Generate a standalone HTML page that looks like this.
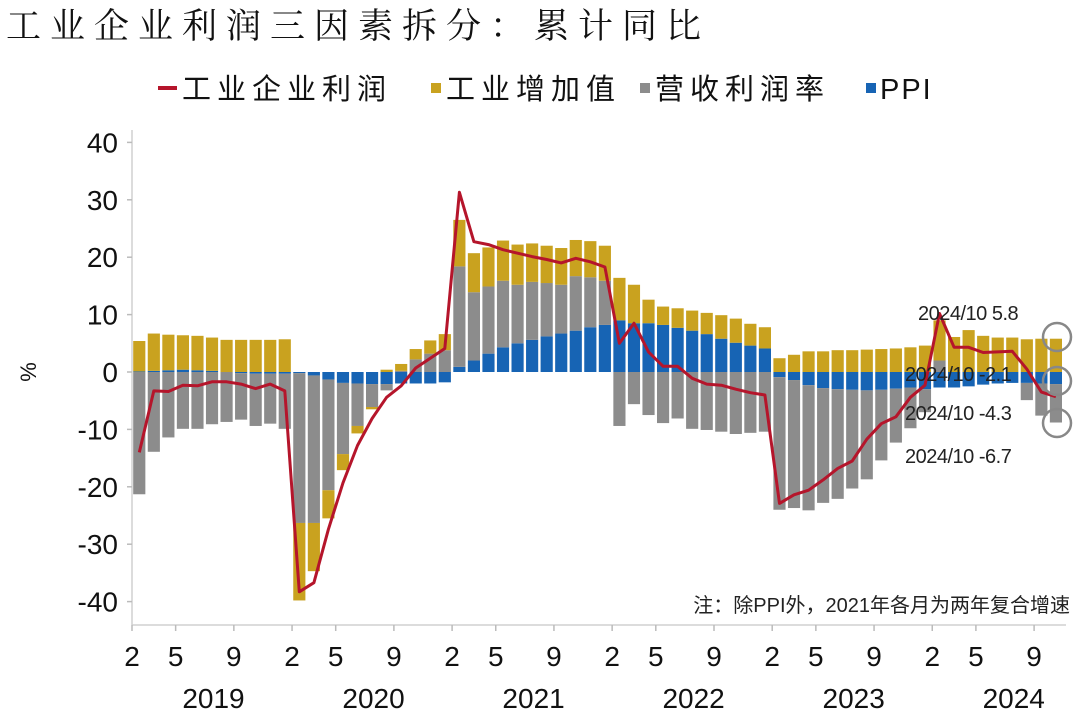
<!DOCTYPE html>
<html><head><meta charset="utf-8">
<style>
body{margin:0;background:#fff;}
svg text{font-family:"Liberation Sans","Noto Sans CJK SC",sans-serif;}
</style></head>
<body>
<svg id="chart" width="1080" height="721" xmlns="http://www.w3.org/2000/svg">
<text x="6" y="38" font-size="35" fill="#111" style="font-family:'Noto Serif CJK SC','Noto Sans CJK SC',serif;letter-spacing:9px">工业企业利润三因素拆分：累计同比</text>
<g font-size="29" fill="#111" style="letter-spacing:6px">
  <g><rect x="158" y="86" width="19" height="4" fill="#B5152B"/><text x="182" y="99">工业企业利润</text></g>
  <g><rect x="431" y="83" width="10" height="10" fill="#C9A21F"/><text x="446" y="99">工业增加值</text></g>
  <g><rect x="640" y="83" width="10" height="10" fill="#8C8C8C"/><text x="655" y="99">营收利润率</text></g>
  <g><rect x="866" y="83" width="10" height="10" fill="#1764B4"/><text x="880" y="99" style="letter-spacing:2px">PPI</text></g>
</g>
<text x="0" y="0" font-size="22" fill="#111" transform="translate(36,372) rotate(-90)" text-anchor="middle">%</text>
<g id="yaxis"></g>
<g id="bars"></g>
<g id="line"></g>
<g id="xaxis"></g>
<g font-size="20" fill="#222" style="font-family:'DejaVu Sans Mono','Liberation Mono',monospace;letter-spacing:-0.5px">
  <text x="918" y="320">2024/10 5.8</text>
  <text x="905" y="381">2024/10 -2.1</text>
  <text x="905" y="420">2024/10 -4.3</text>
  <text x="905" y="463">2024/10 -6.7</text>
  <circle cx="1057" cy="337" r="14" fill="none" stroke="#888" stroke-width="2.5"/>
  <circle cx="1057" cy="381" r="14" fill="none" stroke="#888" stroke-width="2.5"/>
  <circle cx="1057" cy="423" r="14" fill="none" stroke="#888" stroke-width="2.5"/>
</g>
<text x="1070" y="612" font-size="20" fill="#222" text-anchor="end">注：除PPI外，2021年各月为两年复合增速</text>
</svg>
<script>
const years = ["2019","2020","2021","2022","2023","2024"];
const monthLabels = ["2","5","9"];
const yTicks = [40,30,20,10,0,-10,-20,-30,-40];
const valueAdded = [
5.3,6.5,6.2,6.0,6.0,5.8,5.6,5.6,5.6,5.6,5.7,
-13.5,-8.4,-4.9,-2.8,-1.3,-0.4,0.4,1.2,1.8,2.3,2.8,
8.1,6.8,6.8,7.0,7.0,6.7,6.5,6.4,6.3,6.3,6.1,
7.4,6.7,4.1,3.2,3.4,3.5,3.7,4.1,4.2,3.8,3.7,
2.4,3.0,3.6,3.6,3.8,3.8,3.9,4.0,4.1,4.3,4.6,
7.0,6.1,7.3,6.3,6.0,6.0,5.7,5.8,5.8];
const margin = [
-21.3,-13.9,-11.4,-9.9,-9.9,-9.1,-8.7,-8.1,-9.1,-8.7,-9.6,
-26.1,-25.7,-19.3,-12.4,-7.4,-4.0,-1.1,0.2,2.2,3.2,3.8,
17.5,11.9,11.7,11.6,10.2,10.1,9.3,8.5,9.5,8.7,7.7,
-9.4,-5.6,-7.5,-8.9,-8.1,-9.9,-10.1,-10.4,-10.8,-10.6,-10.4,
-23.1,-22.3,-21.8,-20.0,-19.1,-17.2,-15.5,-12.3,-9.4,-7.1,-4.0,
2.0,0,0,0,0,0,-3.0,-5.6,-6.7];
const ppi = [
0.1,0.2,0.3,0.4,0.3,0.2,0.0,-0.2,-0.3,-0.3,-0.3,
-0.2,-0.6,-1.3,-1.9,-2.0,-2.1,-2.1,-2.0,-2.0,-2.0,-1.8,
0.9,2.0,3.2,4.3,5.0,5.6,6.2,6.7,7.2,7.8,8.2,
9.0,8.5,8.5,8.2,7.7,7.2,6.6,5.8,5.1,4.6,4.1,
-0.9,-1.4,-2.3,-2.8,-3.0,-3.1,-3.2,-3.1,-2.9,-2.7,-3.0,
-2.7,-2.7,-2.5,-2.2,-2.0,-1.9,-1.9,-2.0,-2.1];
const profit = [
-14.0,-3.3,-3.4,-2.3,-2.4,-1.7,-1.7,-2.1,-2.9,-2.1,-3.3,
-38.3,-36.7,-27.4,-19.3,-12.8,-8.1,-4.4,-2.4,0.7,2.4,4.1,
31.3,22.7,22.2,21.3,20.7,20.1,19.6,19.0,19.8,19.2,18.3,
5.0,8.5,3.5,1.0,1.0,-1.1,-2.1,-2.3,-3.0,-3.6,-4.0,
-22.9,-21.4,-20.6,-18.8,-16.8,-15.5,-11.7,-9.0,-7.8,-4.4,-2.3,
10.2,4.3,4.3,3.4,3.5,3.6,0.5,-3.5,-4.3];

const NS="http://www.w3.org/2000/svg";
const X0=132, STEP=14.55, Y0=372, K=5.74;
const xPos=i=>X0+i*STEP;
const yPos=v=>Y0-v*K;
function mk(tag,attrs,parent){const e=document.createElementNS(NS,tag);for(const k in attrs)e.setAttribute(k,attrs[k]);parent.appendChild(e);return e;}

const yax=document.getElementById('yaxis');
const ya=mk('line',{x1:X0,y1:130,x2:X0,y2:625,stroke:'#d0d0d0','stroke-width':1.5},yax);


yTicks.forEach(t=>{
  const tk=mk('line',{x1:X0-5,y1:yPos(t),x2:X0,y2:yPos(t),stroke:'#bbb','stroke-width':1.5},yax);
  
  
  const tx=mk('text',{x:118,y:yPos(t)+10,'font-size':28,fill:'#111','text-anchor':'end'},yax);
  tx.textContent=t;
  
  
});

const colors={ppi:'#1764B4',margin:'#8C8C8C',va:'#C9A21F'};
const bars=document.getElementById('bars');
for(let i=0;i<profit.length;i++){
  let pos=0,neg=0;
  [['ppi',ppi[i]],['margin',margin[i]],['va',valueAdded[i]]].forEach(([k,v])=>{
    let a,b;
    if(v>=0){a=pos;b=pos+v;pos=b;}else{a=neg;b=neg+v;neg=b;}
    const y1=yPos(Math.max(a,b)), y2=yPos(Math.min(a,b));
    const r=mk('rect',{x:xPos(i)+1.2,y:y1,width:STEP-2.4,height:Math.max(0,y2-y1),fill:colors[k]},bars);
    
    
  });
}

const lg=document.getElementById('line');
const pts=profit.map((v,i)=>(xPos(i)+STEP/2).toFixed(1)+','+yPos(v).toFixed(1)).join(' ');
const pl=mk('polyline',{points:pts,fill:'none',stroke:'#B5152B','stroke-width':3,'stroke-linejoin':'round'},lg);



const xax=document.getElementById('xaxis');
const xl=mk('line',{x1:X0,y1:625,x2:1066,y2:625,stroke:'#d0d0d0','stroke-width':1.5},xax);


const offs=[0,3,7];
years.forEach((yr,yi)=>{
  const base=yi*11;
  monthLabels.forEach((m,mi)=>{
    const idx=base+offs[mi];
    if(idx>=profit.length) return;
    const x=xPos(idx);
    const tk=mk('line',{x1:x,y1:625,x2:x,y2:631,stroke:'#bbb','stroke-width':1.5},xax);
    
    
    const t=mk('text',{x:x,y:666,'font-size':28,fill:'#111','text-anchor':'middle'},xax);
    t.textContent=m;
    
    
  });
  const yt=mk('text',{x:xPos(base)+5.6*STEP,y:708,'font-size':28,fill:'#111','text-anchor':'middle'},xax);
  yt.textContent=yr;
  
  
});
</script>
</body></html>
